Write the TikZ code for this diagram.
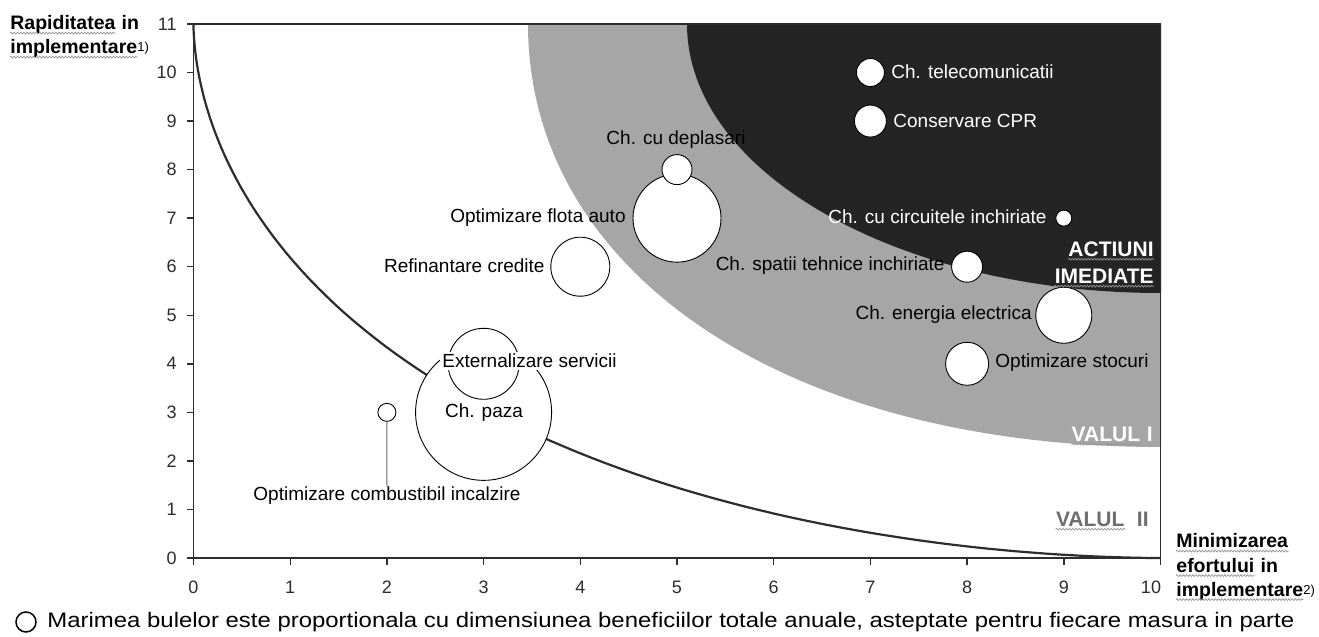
\documentclass[tikz,border=0pt]{standalone}
\usepackage{fontspec}
\usepackage{graphicx}
\setmainfont{Liberation Sans}
\usetikzlibrary{decorations.pathmorphing}
\definecolor{midgray}{RGB}{166,166,166}
\definecolor{darkfill}{RGB}{36,36,36}
\definecolor{axiscol}{RGB}{45,45,45}
\definecolor{squigcol}{RGB}{150,150,150}
\definecolor{valcol}{RGB}{110,110,110}
\begin{document}
\begin{tikzpicture}[x=0.5pt,y=-0.5pt,
  lbl/.style={font=\fontsize{9.5pt}{11pt}\selectfont, inner sep=0pt, text=black},
  wlbl/.style={lbl, text=white},
  reg/.style={font=\fontsize{10.5pt}{12pt}\selectfont\bfseries, inner sep=0pt},
  axt/.style={font=\fontsize{9.75pt}{12pt}\selectfont\bfseries, inner sep=0pt, anchor=base west},
  supl/.style={font=\fontsize{6.5pt}{7pt}\selectfont, inner sep=0pt, anchor=base west},
  bubble/.style={circle, draw=black, line width=0.45pt, fill=white, inner sep=0pt},
  squig/.style={draw=squigcol, line width=0.35pt, decorate, decoration={snake, amplitude=0.45pt, segment length=1.6pt}},
  tickline/.style={draw=axiscol, line width=0.7pt},
  ticklbl/.style={font=\fontsize{9pt}{10pt}\selectfont, text=axiscol, inner sep=0pt},
  curve/.style={draw=axiscol, line width=1.1pt},
  leader/.style={draw=valcol, line width=0.5pt}]

\useasboundingbox (0,0) rectangle (1319,637);
\fill[white] (0,0) rectangle (1319,637);

% shaded regions
\begin{scope}
  \clip (193.5,24) rectangle (1161,558);
  \fill[midgray] (528,24) .. controls (528,273.6) and (787.5,447) .. (1161,447) -- (1161,24) -- cycle;
  \fill[darkfill] (687,24) .. controls (687,172.6) and (899.2,293) .. (1161,293) -- (1161,24) -- cycle;
\end{scope}

% data scope
\begin{scope}[shift={(193.5,558)}, x=48.35pt, y=24.275pt]
  \draw[curve] (10,0) -- plot[domain=1:89, samples=120, variable=\t]
     ({10*pow(cos(\t),3.571)},{11*pow(sin(\t),3.571)}) -- (0.02,11);
  % frame and axes
  \draw[tickline] (0,11) -- (10,11) -- (10,0);
  \draw[tickline] (0,0) -- (0,11);
  \draw[tickline] (0,0) -- (10,0);
  \foreach \i in {0,...,11} {
    \draw[tickline] (0,\i) -- ++(-7pt*0.5,0);
  }
  \foreach \i in {0,...,10} {
    \draw[tickline] (\i,0) -- ++(0,-7pt*0.5);
  }
  % bubbles
  \node[bubble, minimum size=14pt]   (tele)   at (7,10) {};
  \node[bubble, minimum size=16pt]   (cpr)    at (7,9) {};
  \node[bubble, minimum size=44pt]   (flota)  at (5,7) {};
  \node[bubble, minimum size=15pt]   (depl)   at (5,8) {};
  \node[bubble, minimum size=29.5pt] (refin)  at (4,6) {};
  \node[bubble, minimum size=68pt]   (paza)   at (3,3) {};
  \node[bubble, minimum size=35.5pt] (ext)    at (3,4) {};
  \node[bubble, minimum size=9pt]    (comb)   at (2,3) {};
  \node[bubble, minimum size=8pt]    (circ)   at (9,7) {};
  \node[bubble, minimum size=15.5pt] (spatii) at (8,6) {};
  \node[bubble, minimum size=28pt]   (energ)  at (9,5) {};
  \node[bubble, minimum size=21.5pt] (stoc)   at (8,4) {};
\end{scope}

% tick labels
\foreach \i/\y in {0/558,1/509.45,2/460.9,3/412.35,4/363.8,5/315.25,6/266.7,7/218.15,8/169.6,9/121.05,10/72.5,11/23.95} {
  \node[ticklbl, anchor=east] (yt\i) at (177,\y) {\i};
}
\foreach \i/\x in {0/193.5,1/290.2,2/386.9,3/483.6,4/580.3,5/677,6/773.7,7/870.4,8/967.1,9/1063.8,10/1151} {
  \node[ticklbl] (xt\i) at (\x,587) {\i};
}

% bubble labels
\node[wlbl, anchor=west] (ltele) at (891,72) {Ch. telecomunicatii};
\node[wlbl, anchor=west] (lcpr) at (893,121) {Conservare CPR};
\node[lbl] (ldepl) at (676,140) {Ch. cu deplasari};
\node[lbl, anchor=east] (lflota) at (626,218) {Optimizare flota auto};
\node[lbl, anchor=east] (lrefin) at (545,266) {Refinantare credite};
\node[lbl, anchor=west, fill=white, inner sep=1pt] (lext) at (440,361) {Externalizare servicii};
\node[lbl] (lpaza) at (484,413) {Ch. paza};
\node[lbl] (lcomb) at (387,496) {Optimizare combustibil incalzire};
\draw[leader] (comb.south) -- (lcomb.north);
\node[wlbl, anchor=east] (lcirc) at (1047,217) {Ch. cu circuitele inchiriate};
\node[lbl, anchor=east] (lspatii) at (945,266) {Ch. spatii tehnice inchiriate};
\node[lbl, anchor=east] (lenerg) at (1032,315) {Ch. energia electrica};
\node[lbl, anchor=west] (lstoc) at (995,363) {Optimizare stocuri};

% region labels
\node[reg, text=white, anchor=base east] (act) at (1154,256) {ACTIUNI};
\draw[squig] ([yshift=-1.6pt]act.base west) -- ([yshift=-1.6pt]act.base east);
\node[reg, text=white, anchor=base east] (ime) at (1154,283) {IMEDIATE};
\draw[squig] ([yshift=-1.6pt]ime.base west) -- ([yshift=-1.6pt]ime.base east);
\node[reg, text=white, anchor=base east] (v1b) at (1153,441) {\ I};
\node[reg, text=white, anchor=base east] (v1a) at (v1b.base west) {VALUL};
\draw[squig] ([yshift=-1.6pt]v1a.base west) -- ([yshift=-1.6pt]v1a.base east);
\node[reg, text=valcol, anchor=base east] (v2b) at (1149,526) {\ \ II};
\node[reg, text=valcol, anchor=base east] (v2a) at (v2b.base west) {VALUL};
\draw[squig] ([yshift=-1.6pt]v2a.base west) -- ([yshift=-1.6pt]v2a.base east);

% axis titles
\node[axt] (ra) at (10,29.5) {Rapiditatea};
\node[axt] (rb) at (ra.base east) {\ in};
\node[axt] (rc) at (10,53.5) {implementare};
\node[supl] (rd) at ([xshift=-0.3pt,yshift=1pt]rc.base east) {1)};
\draw[squig] ([yshift=-1.8pt]ra.base west) -- ([yshift=-1.8pt]ra.base east);
\draw[squig] ([yshift=-1.8pt]rc.base west) -- ([yshift=-1.8pt]rc.base east);

\node[axt] (ma) at (1176,547.5) {Minimizarea};
\node[axt] (mb) at (1176,572) {efortului};
\node[axt] (mc) at (mb.base east) {\ in};
\node[axt] (md) at (1176,596) {implementare};
\node[supl] (me) at ([xshift=-0.3pt,yshift=1pt]md.base east) {2)};
\draw[squig] ([yshift=-1.8pt]ma.base west) -- ([yshift=-1.8pt]ma.base east);
\draw[squig] ([yshift=-1.8pt]mb.base west) -- ([yshift=-1.8pt]mb.base east);
\draw[squig] ([yshift=-1.8pt]md.base west) -- ([yshift=-1.8pt]md.base east);

% legend
\node[circle, draw=black, line width=0.75pt, minimum size=10pt, inner sep=0pt] (legc) at (26,622) {};
\node[font=\fontsize{10.5pt}{12pt}\selectfont, inner sep=0pt, anchor=west] (legt) at (47,622)
  {\scalebox{1.14}[1]{Marimea bulelor este proportionala cu dimensiunea beneficiilor totale anuale, asteptate pentru fiecare masura in parte}};
\end{tikzpicture}
\end{document}
